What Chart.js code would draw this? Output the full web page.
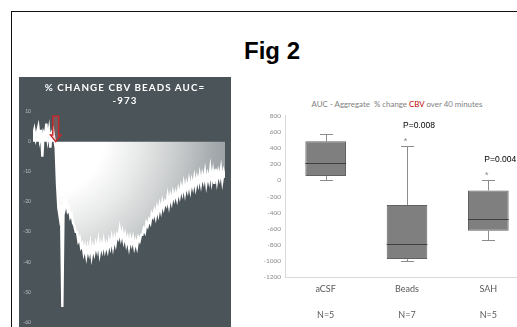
<!DOCTYPE html>
<html>
<head>
<meta charset="utf-8">
<script src="https://cdn.jsdelivr.net/npm/chart.js@4.4.1/dist/chart.umd.min.js"></script>
<style>
  html, body { margin: 0; padding: 0; width: 517px; height: 327px; overflow: hidden; background: #fff; }
  body { position: relative; }
  #frame { position: absolute; left: 11px; top: 11px; width: 640px; height: 440px; border: 1.5px solid #111; box-sizing: border-box; }
  #figTitle { position: absolute; left: 0; width: 544px; top: 39px; text-align: center; font: bold 24px/24px "Liberation Sans", Arial, sans-serif; color: #000; }
  #panel { position: absolute; left: 19px; top: 77px; width: 212px; height: 250px; background: #4a5459; }
  #cbvCanvas { position: absolute; left: 0; top: 0; }
  #cbvTitle { position: absolute; left: 0; top: 4px; width: 212px; text-align: center; color: #fff; font: bold 9.8px/12.7px Lato, sans-serif; letter-spacing: 1.1px; }
  #aucCanvas { position: absolute; left: 249px; top: 95px; }
  #aucTitle { position: absolute; left: 290px; top: 100px; width: 214px; text-align: center; color: #7f7f7f; font: 7.9px/9px Lato, sans-serif; white-space: nowrap; }
  #aucTitle span { color: #c00000; }
</style>
</head>
<body>
<div id="frame"></div>
<div id="figTitle">Fig 2</div>

<div id="panel">
  <canvas id="cbvCanvas" width="212" height="250"></canvas>
  <div id="cbvTitle">% CHANGE CBV BEADS AUC=<br>-973</div>
</div>

<div id="aucTitle">AUC - Aggregate&nbsp; % change <span>CBV</span> over 40 minutes</div>
<canvas id="aucCanvas" width="280" height="232"></canvas>

<script>
// ---- Left panel: % change in CBV over time (bead injection at minute 0) ----
const startMinute = -5;
const sampleMinutes = 0.3;
const injectionMinute = 0;
const cbvChange = [
  2, 4, 1, 3, 5, 1, 4, -5, 3, 2, 6, 1, 4, -2, 3, 4, 1,
  -2, -14, -22, -25, -21, -55, -19, -22, -20, -23, -22, -25, -24, -27, -28, -30,
  -30, -33, -32, -35, -34, -37, -35, -38, -35, -37, -34, -38, -35, -37, -34, -36,
  -33, -37, -34, -36, -33, -36, -34, -36, -33, -35, -32, -35, -32, -34, -31, -32,
  -29, -32, -30, -33, -31, -34, -32, -35, -32, -34, -32, -35, -33, -35, -32, -33,
  -31, -31, -29, -30, -27, -28, -26, -27, -24, -25, -23, -25, -22, -24, -21, -23,
  -20, -22, -20, -21, -18, -21, -18, -20, -17, -19, -17, -19, -16, -18, -15, -17,
  -14, -17, -14, -16, -13, -16, -13, -15, -12, -15, -12, -14, -11, -14, -11, -13,
  -10, -14, -11, -13, -9, -13, -10, -14, -9, -13, -10, -12, -9, -13, -10, -12
];
const cbvTicks = { min: -60, max: 10, step: 10 };

// ---- Right panel: AUC box plot per group ----
const groups = ['aCSF', 'Beads', 'SAH'];
const groupN = ['N=5', 'N=7', 'N=5'];
const whiskerMin = [5, -1000, -740];
const quartile1 = [55, -975, -625];
const median = [210, -790, -480];
const quartile3 = [485, -305, -125];
const whiskerMax = [570, 425, 0];
const pValues = ['', 'P=0.008', 'P=0.004'];
const aucTicks = { min: -1200, max: 800, step: 200 };

// Red outlined arrow marking the injection
const injectionArrow = {
  id: 'injectionArrow',
  afterDatasetsDraw(chart) {
    const { ctx, scales: { x, y } } = chart;
    const cx = x.getPixelForValue(injectionMinute) + 0.5;
    const tip = y.getPixelForValue(0);
    const shaftTop = tip - 25.5, headBase = tip - 6.7;
    ctx.save();
    ctx.beginPath();
    ctx.moveTo(cx - 3, shaftTop);
    ctx.lineTo(cx + 3, shaftTop);
    ctx.lineTo(cx + 3, headBase);
    ctx.lineTo(cx + 5.3, headBase);
    ctx.lineTo(cx, tip);
    ctx.lineTo(cx - 5.3, headBase);
    ctx.lineTo(cx - 3, headBase);
    ctx.closePath();
    ctx.fillStyle = 'rgba(225,120,120,0.25)';
    ctx.fill();
    ctx.strokeStyle = '#c8282c';
    ctx.lineWidth = 1.4;
    ctx.stroke();
    ctx.restore();
  }
};

// Area under the trace: white near the injection, greying toward the trough and recovery
function fillGradient(context) {
  const chart = context.chart;
  const area = chart.chartArea;
  if (!area) return 'rgba(255,255,255,0.85)';
  const cx = area.left + 12, cy = area.top + 23;
  const g = chart.ctx.createRadialGradient(cx, cy, 0, cx, cy, 215);
  g.addColorStop(0, '#ffffff');
  g.addColorStop(0.28, '#ffffff');
  g.addColorStop(0.45, '#e7e8e8');
  g.addColorStop(0.62, '#c9cccd');
  g.addColorStop(0.8, '#a2a8ab');
  g.addColorStop(1, '#8a9195');
  return g;
}

new Chart(document.getElementById('cbvCanvas'), {
  type: 'line',
  data: {
    datasets: [{
      data: cbvChange.map((v, i) => ({ x: startMinute + i * sampleMinutes, y: v })),
      borderColor: '#ffffff',
      borderWidth: 2.4,
      pointRadius: 0,
      tension: 0,
      fill: 'origin',
      backgroundColor: fillGradient
    }]
  },
  options: {
    responsive: false,
    animation: false,
    events: [],
    layout: { padding: { top: 34.7, bottom: 4, left: 0, right: 6 } },
    plugins: { legend: { display: false }, tooltip: { enabled: false } },
    scales: {
      x: { type: 'linear', min: startMinute, max: startMinute + (cbvChange.length - 1) * sampleMinutes, display: false },
      y: {
        min: cbvTicks.min, max: cbvTicks.max,
        ticks: { stepSize: cbvTicks.step, color: '#b9c0c4', font: { family: 'Lato', size: 5 }, padding: 2 },
        grid: { display: false, drawTicks: false },
        border: { display: false },
        afterFit(scale) { scale.width = 14; }
      }
    }
  },
  plugins: [injectionArrow]
});

// Whiskers, medians and significance labels drawn over the floating-bar boxes
const boxWhiskers = {
  id: 'boxWhiskers',
  afterDatasetsDraw(chart) {
    const { ctx, scales: { y } } = chart;
    const meta = chart.getDatasetMeta(0);
    ctx.save();
    groups.forEach((g, i) => {
      const bar = meta.data[i];
      const cx = Math.round(bar.x) + 0.5;
      const half = bar.width / 2;
      const yMax = Math.round(y.getPixelForValue(whiskerMax[i])) + 0.5;
      const yMin = Math.round(y.getPixelForValue(whiskerMin[i])) + 0.5;
      const yQ1 = y.getPixelForValue(quartile1[i]);
      const yQ3 = y.getPixelForValue(quartile3[i]);
      const yMed = Math.round(y.getPixelForValue(median[i])) + 0.5;
      ctx.strokeStyle = '#8c8c8c';
      ctx.lineWidth = 1;
      ctx.beginPath();
      ctx.moveTo(cx, yQ3); ctx.lineTo(cx, yMax);
      ctx.moveTo(cx - 6.5, yMax); ctx.lineTo(cx + 6.5, yMax);
      ctx.moveTo(cx, yQ1); ctx.lineTo(cx, yMin);
      ctx.moveTo(cx - 6.5, yMin); ctx.lineTo(cx + 6.5, yMin);
      ctx.stroke();
      ctx.strokeStyle = '#3f3f3f';
      ctx.lineWidth = 1.2;
      ctx.beginPath();
      ctx.moveTo(bar.x - half, yMed); ctx.lineTo(bar.x + half, yMed);
      ctx.stroke();
      if (pValues[i]) {
        ctx.fillStyle = '#000';
        ctx.font = '8.5px "Liberation Sans", Arial, sans-serif';
        ctx.textAlign = 'left';
        ctx.textBaseline = 'middle';
        ctx.fillText(pValues[i], bar.x - 4, yMax - 20.5);
        ctx.fillStyle = '#8c8c8c';
        ctx.font = '9px "Liberation Sans", Arial, sans-serif';
        ctx.textAlign = 'center';
        ctx.textBaseline = 'alphabetic';
        ctx.fillText('*', bar.x - 1.5, yMax - 3);
      }
    });
    ctx.restore();
  }
};

new Chart(document.getElementById('aucCanvas'), {
  type: 'bar',
  data: {
    labels: groups.map((g, i) => [g, '', groupN[i]]),
    datasets: [{
      data: groups.map((g, i) => [quartile1[i], quartile3[i]]),
      backgroundColor: '#7f7f7f',
      borderColor: '#626262',
      borderWidth: 1,
      borderSkipped: false,
      barPercentage: 0.5,
      categoryPercentage: 1
    }]
  },
  options: {
    responsive: false,
    animation: false,
    events: [],
    layout: { padding: { top: 20.7, left: 0, right: 0, bottom: 0 } },
    plugins: { legend: { display: false }, tooltip: { enabled: false } },
    scales: {
      x: {
        grid: { display: false, drawTicks: false },
        border: { color: '#d9d9d9' },
        ticks: { color: '#595959', font: { family: 'Lato', size: 9, lineHeight: 1.45 }, padding: 5, maxRotation: 0 },
        afterFit(scale) { scale.height = 49.7; }
      },
      y: {
        min: aucTicks.min, max: aucTicks.max,
        ticks: { stepSize: aucTicks.step, color: '#8c8c8c', font: { family: 'Lato', size: 6.5 }, padding: 4, callback: (v) => String(v) },
        grid: { display: false, drawTicks: false },
        border: { color: '#d9d9d9' },
        afterFit(scale) { scale.width = 36; }
      }
    }
  },
  plugins: [boxWhiskers]
});
</script>
</body>
</html>
